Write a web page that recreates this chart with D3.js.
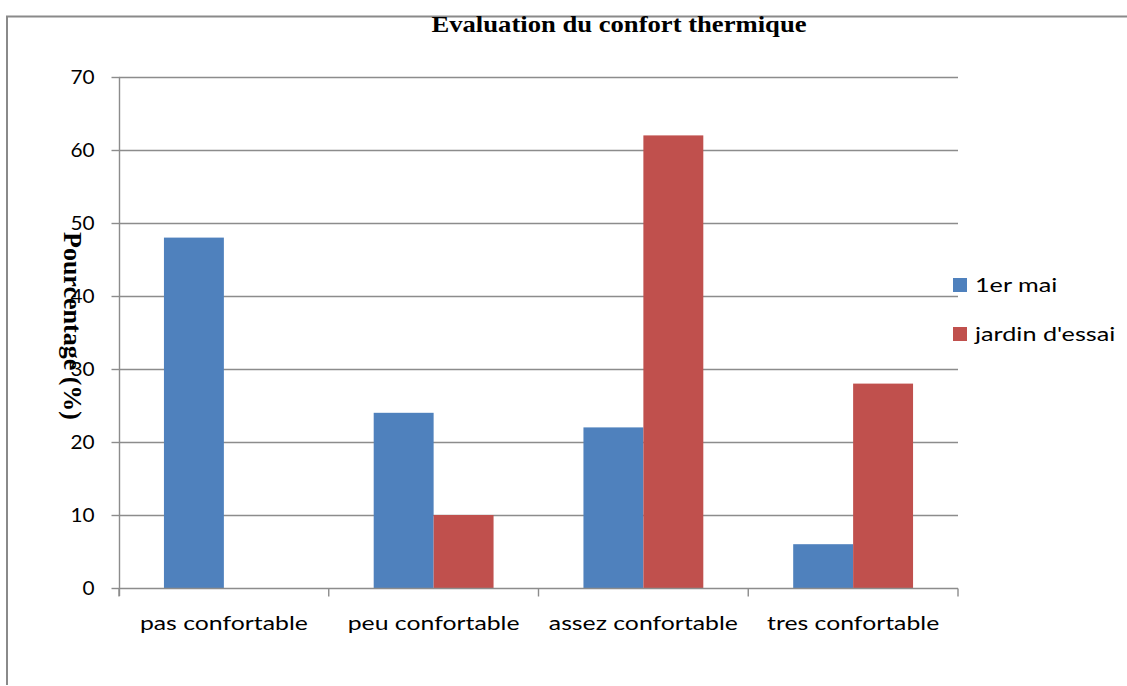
<!DOCTYPE html>
<html>
<head>
<meta charset="utf-8">
<script src="https://cdn.jsdelivr.net/npm/d3@7"></script>
<style>
  html, body { margin: 0; padding: 0; background: #fff; }
  svg { display: block; }
</style>
</head>
<body>
<svg id="chart" width="1127" height="686"></svg>
<script>
const title = "Evaluation du confort thermique";
const yTitle = "Pourcentage (%)";
const categories = ["pas confortable", "peu confortable", "assez confortable", "tres confortable"];
const seriesNames = ["1er mai", "jardin d'essai"];
const serie1erMai = [48, 24, 22, 6];
const serieJardin = [0, 10, 62, 28];
const yTicks = [0, 10, 20, 30, 40, 50, 60, 70];
const colors = ["#4F81BD", "#C0504D"];

const seriesValues = [serie1erMai, serieJardin];

const SANS = "Lato, Carlito, 'Open Sans', sans-serif";
const SERIF = "'Liberation Serif', 'Times New Roman', serif";
const W = 1127, H = 686;
const svg = d3.select("#chart");

// outer frame (top & left)
svg.append("line").attr("x1", 6).attr("x2", W).attr("y1", 16.5).attr("y2", 16.5)
  .attr("stroke", "#8a8a8a").attr("stroke-width", 2);
svg.append("line").attr("x1", 7).attr("x2", 7).attr("y1", 16).attr("y2", 685)
  .attr("stroke", "#8a8a8a").attr("stroke-width", 2);

const x0 = d3.scaleBand().domain(categories).range([119, 958]).paddingInner(0).paddingOuter(0);
const x1 = d3.scaleBand().domain(seriesNames).range([0, x0.bandwidth()]).paddingInner(0).paddingOuter(0.75);
const y = d3.scaleLinear().domain([0, 70]).range([588, 77]);

// gridlines
svg.append("g").selectAll("line").data(yTicks.filter(d => d > 0)).join("line")
  .attr("x1", 119).attr("x2", 958)
  .attr("y1", d => Math.round(y(d)) + 0.5).attr("y2", d => Math.round(y(d)) + 0.5)
  .attr("stroke", "#8c8c8c").attr("stroke-width", 1.4);

// bars
const groups = svg.append("g").selectAll("g").data(categories).join("g")
  .attr("transform", d => `translate(${x0(d)},0)`);
groups.selectAll("rect")
  .data((c, i) => seriesNames.map((s, j) => ({ s, v: seriesValues[j][i], j })))
  .join("rect")
  .attr("x", d => x1(d.s))
  .attr("width", x1.bandwidth())
  .attr("y", d => y(d.v))
  .attr("height", d => y(0) - y(d.v))
  .attr("fill", d => colors[d.j]);

// y axis
const tickScale = 1.04;
const yAxis = d3.axisLeft(y).tickValues(yTicks).tickSize(8).tickPadding(0).tickFormat(d3.format("d"));
const gy = svg.append("g").attr("transform", "translate(119.5,0)").call(yAxis);
gy.select(".domain").attr("stroke", "#8c8c8c").attr("stroke-width", 1.4).attr("d", "M0,77V596");
gy.selectAll(".tick line").attr("stroke", "#8c8c8c").attr("stroke-width", 1.4);
gy.selectAll(".tick text").attr("font-family", SANS).attr("font-size", 20).attr("fill", "#000")
  .attr("x", -25 / tickScale).attr("transform", `scale(${tickScale},1)`);

// x axis
const labScale = 1.24;
const xAxis = d3.axisBottom(x0).tickSize(0).tickPadding(0).tickFormat(d => d);
const gx = svg.append("g").attr("transform", "translate(0,588.5)").call(xAxis);
gx.select(".domain").attr("stroke", "#8c8c8c").attr("stroke-width", 1.4).attr("d", "M119,0H958");
gx.selectAll(".tick").each(function () {
  const t = d3.select(this);
  const tx = t.attr("transform");
  t.select("text").attr("font-family", SANS).attr("font-size", 20).attr("fill", "#000")
    .attr("dy", 0).attr("y", 41.5).attr("transform", `scale(${labScale},1)`);
});
const bounds = categories.map(c => x0(c)).concat([x0(categories[categories.length - 1]) + x0.bandwidth()]);
gx.selectAll(".bound").data(bounds).join("line").attr("class", "bound")
  .attr("x1", d => d).attr("x2", d => d).attr("y1", 0).attr("y2", 8)
  .attr("stroke", "#8c8c8c").attr("stroke-width", 1.4);

// title
svg.append("text").attr("transform", "translate(619,31.5) scale(1.11,1)").attr("text-anchor", "middle")
  .attr("font-family", SERIF).attr("font-weight", "bold")
  .attr("font-size", 24).attr("fill", "#000").text(title);

// y title
svg.append("text").attr("transform", "translate(64,326) rotate(90)").attr("text-anchor", "middle")
  .attr("font-family", SERIF).attr("font-weight", "bold")
  .attr("font-size", 26).attr("fill", "#000").text(yTitle);

// legend
const legend = svg.append("g").selectAll("g").data(seriesNames).join("g")
  .attr("transform", (d, i) => `translate(953,${278 + i * 49})`);
legend.append("rect").attr("width", 14).attr("height", 14).attr("fill", (d, i) => colors[i]);
legend.append("text").attr("transform", "translate(22,13.5) scale(1.26,1)")
  .attr("font-family", SANS).attr("font-size", 20).attr("fill", "#000").text(d => d);
</script>
</body>
</html>
